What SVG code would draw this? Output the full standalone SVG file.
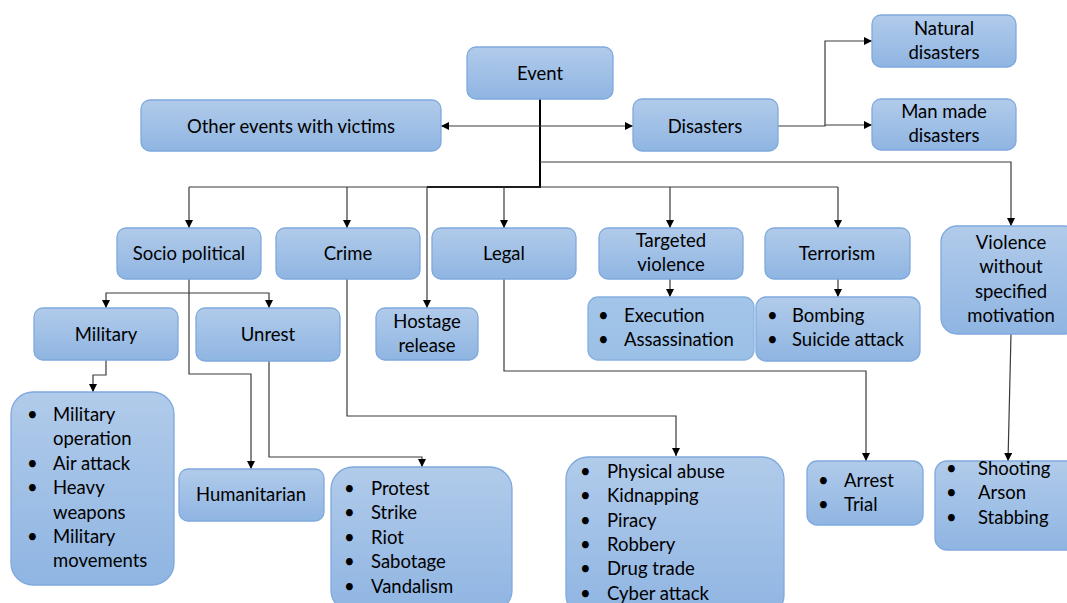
<svg xmlns="http://www.w3.org/2000/svg" width="1067" height="603" viewBox="0 0 1067 603">
<defs>
<linearGradient id="g" x1="0" y1="0" x2="0" y2="1">
<stop offset="0" stop-color="#B1CBEA"/>
<stop offset="1" stop-color="#8FB5E2"/>
</linearGradient>
<linearGradient id="g2" x1="0" y1="0" x2="0" y2="1">
<stop offset="0" stop-color="#A3C5E9"/>
<stop offset="1" stop-color="#9BC0E6"/>
</linearGradient>
<marker id="a" viewBox="0 0 8 8" refX="8" refY="4" markerWidth="8" markerHeight="8" markerUnits="userSpaceOnUse" orient="auto-start-reverse">
<path d="M0,0 L8,4 L0,8 z" fill="#000"/>
</marker>
</defs>
<style>
.b{fill:url(#g);stroke:#7FA9DD;stroke-width:1.3}
.b2{fill:url(#g2);stroke:#86B0DF;stroke-width:1.3}
text{font-family:Lato,"Liberation Sans",sans-serif;font-size:18.5px;fill:#000}
.c{text-anchor:middle}
.l{fill:none;stroke:#3a3a3a;stroke-width:1.2}
.t{fill:none;stroke:#000;stroke-width:2}
</style>
<rect width="1067" height="603" fill="#fff"/>
<g id="connectors">
<path class="t" d="M540,99 V187 H427"/>
<path class="l" d="M441,126 H633" marker-start="url(#a)" marker-end="url(#a)"/>
<path class="l" d="M540,162 H1011 V226" marker-end="url(#a)"/>
<path class="l" d="M189,187 H838"/>
<path class="l" d="M189,187 V228" marker-end="url(#a)"/>
<path class="l" d="M347,187 V228" marker-end="url(#a)"/>
<path class="l" d="M427,187 V308" marker-end="url(#a)"/>
<path class="l" d="M504,187 V228" marker-end="url(#a)"/>
<path class="l" d="M670,187 V228" marker-end="url(#a)"/>
<path class="l" d="M838,187 V228" marker-end="url(#a)"/>
<path class="l" d="M778,126 H825 V41 H872" marker-end="url(#a)"/>
<path class="l" d="M825,125 H872" marker-end="url(#a)"/>
<path class="l" d="M670,279 V297" marker-end="url(#a)"/>
<path class="l" d="M838,279 V297" marker-end="url(#a)"/>
<path class="l" d="M189,279 V293 H106 V308" marker-end="url(#a)"/>
<path class="l" d="M189,293 H269 V308" marker-end="url(#a)"/>
<path class="l" d="M189,293 V374 H251 V469" marker-end="url(#a)"/>
<path class="l" d="M106,360 V375 H93 V392" marker-end="url(#a)"/>
<path class="l" d="M269,361 V457 H422 V467" marker-end="url(#a)"/>
<path class="l" d="M347,279 V416 H676 V456" marker-end="url(#a)"/>
<path class="l" d="M504,279 V371 H866 V461" marker-end="url(#a)"/>
<path class="l" d="M1011,334 L1008,461" marker-end="url(#a)"/>
</g>
<g id="event"><rect class="b" x="467" y="47" width="146" height="52" rx="9"/><text class="c" x="540" y="80">Event</text></g>
<g id="other"><rect class="b" x="141" y="100" width="300" height="51" rx="9"/><text class="c" x="291" y="133">Other events with victims</text></g>
<g id="disasters"><rect class="b" x="633" y="99" width="145" height="52" rx="9"/><text class="c" x="705" y="133">Disasters</text></g>
<g id="natural"><rect class="b" x="872" y="15" width="144" height="52" rx="9"/><text class="c" x="944" y="35">Natural</text><text class="c" x="944" y="59">disasters</text></g>
<g id="manmade"><rect class="b" x="872" y="99" width="144" height="51" rx="9"/><text class="c" x="944" y="118">Man made</text><text class="c" x="944" y="142">disasters</text></g>
<g id="socio"><rect class="b" x="117" y="228" width="144" height="51" rx="9"/><text class="c" x="189" y="260">Socio political</text></g>
<g id="crime"><rect class="b" x="276" y="228" width="144" height="51" rx="9"/><text class="c" x="348" y="260">Crime</text></g>
<g id="legal"><rect class="b" x="432" y="228" width="144" height="51" rx="9"/><text class="c" x="504" y="260">Legal</text></g>
<g id="targeted"><rect class="b" x="599" y="228" width="144" height="51" rx="9"/><text class="c" x="671" y="247">Targeted</text><text class="c" x="671" y="271">violence</text></g>
<g id="terrorism"><rect class="b" x="765" y="228" width="145" height="51" rx="9"/><text class="c" x="837" y="260">Terrorism</text></g>
<g id="violence"><rect class="b" x="941" y="226" width="140" height="108" rx="16"/><text class="c" x="1011" y="249">Violence</text><text class="c" x="1011" y="273">without</text><text class="c" x="1011" y="298">specified</text><text class="c" x="1011" y="322">motivation</text></g>
<g id="execution"><rect class="b2" x="588" y="297" width="166" height="63" rx="10"/><text x="598" y="322">•</text><text x="624" y="322">Execution</text><text x="598" y="346">•</text><text x="624" y="346">Assassination</text></g>
<g id="bombing"><rect class="b" x="756" y="297" width="164" height="64" rx="10"/><text x="767" y="322">•</text><text x="792" y="322">Bombing</text><text x="767" y="346">•</text><text x="792" y="346">Suicide attack</text></g>
<g id="military"><rect class="b" x="34" y="308" width="144" height="52" rx="9"/><text class="c" x="106" y="341">Military</text></g>
<g id="unrest"><rect class="b" x="196" y="308" width="144" height="53" rx="9"/><text class="c" x="268" y="341">Unrest</text></g>
<g id="hostage"><rect class="b" x="376" y="308" width="102" height="52" rx="9"/><text class="c" x="427" y="328">Hostage</text><text class="c" x="427" y="352">release</text></g>
<g id="militarylist"><rect class="b" x="11" y="392" width="163" height="193" rx="22"/>
<text x="27" y="421">•</text><text x="53" y="421">Military</text><text x="53" y="445">operation</text>
<text x="27" y="470">•</text><text x="53" y="470">Air attack</text>
<text x="27" y="494">•</text><text x="53" y="494">Heavy</text><text x="53" y="519">weapons</text>
<text x="27" y="543">•</text><text x="53" y="543">Military</text><text x="53" y="567">movements</text></g>
<g id="humanitarian"><rect class="b" x="179" y="469" width="145" height="52" rx="9"/><text class="c" x="251" y="501">Humanitarian</text></g>
<g id="unrestlist"><rect class="b" x="331" y="467" width="181" height="145" rx="22"/>
<text x="344" y="495">•</text><text x="371" y="495">Protest</text>
<text x="344" y="519">•</text><text x="371" y="519">Strike</text>
<text x="344" y="544">•</text><text x="371" y="544">Riot</text>
<text x="344" y="568">•</text><text x="371" y="568">Sabotage</text>
<text x="344" y="593">•</text><text x="371" y="593">Vandalism</text></g>
<g id="crimelist"><rect class="b" x="566" y="457" width="218" height="160" rx="22"/>
<text x="580" y="478">•</text><text x="607" y="478">Physical abuse</text>
<text x="580" y="502">•</text><text x="607" y="502">Kidnapping</text>
<text x="580" y="527">•</text><text x="607" y="527">Piracy</text>
<text x="580" y="551">•</text><text x="607" y="551">Robbery</text>
<text x="580" y="575">•</text><text x="607" y="575">Drug trade</text>
<text x="580" y="600">•</text><text x="607" y="600">Cyber attack</text></g>
<g id="legallist"><rect class="b" x="807" y="461" width="116" height="64" rx="10"/>
<text x="818" y="487">•</text><text x="844" y="487">Arrest</text>
<text x="818" y="511">•</text><text x="844" y="511">Trial</text></g>
<g id="violencelist"><rect class="b" x="935" y="461" width="146" height="89" rx="12"/>
<text x="946" y="475">•</text><text x="978" y="475">Shooting</text>
<text x="946" y="499">•</text><text x="978" y="499">Arson</text>
<text x="946" y="524">•</text><text x="978" y="524">Stabbing</text></g>
</svg>
